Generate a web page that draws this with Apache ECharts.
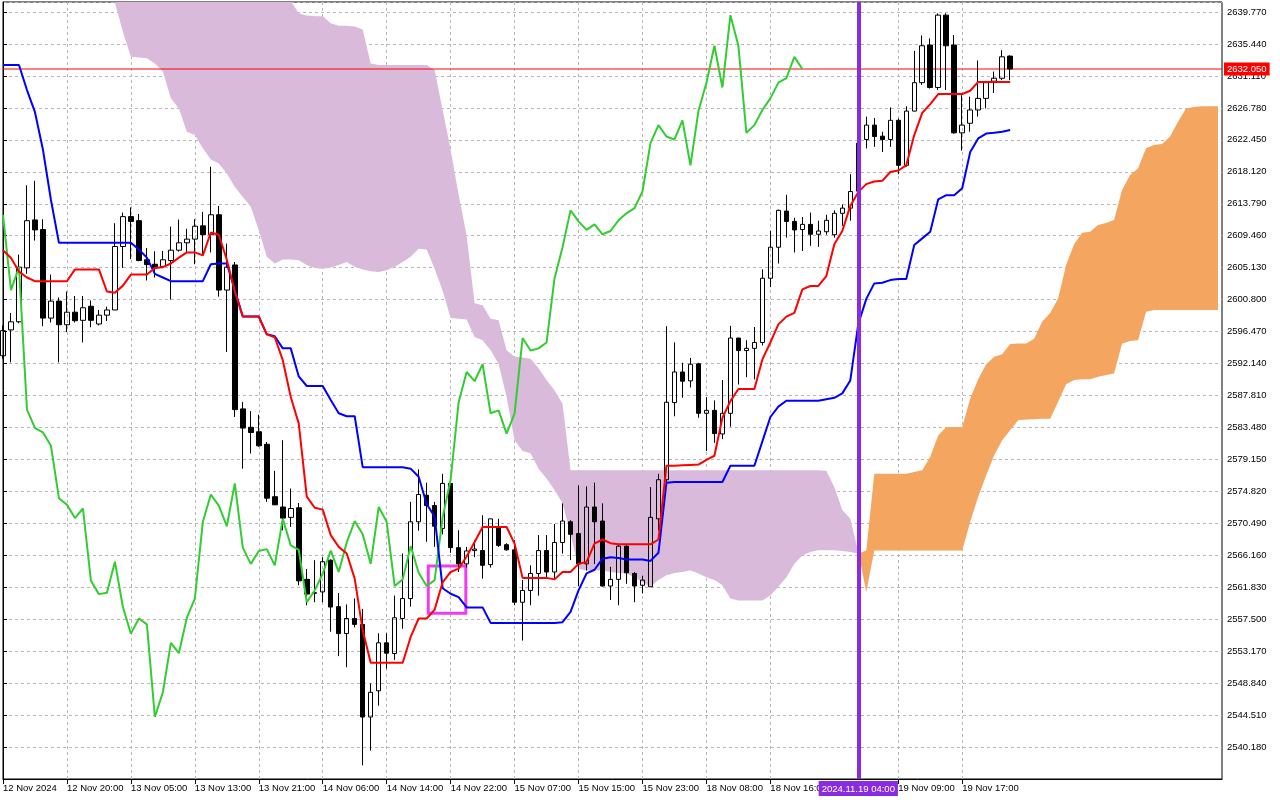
<!DOCTYPE html>
<html>
<head>
<meta charset="utf-8">
<title>XAUUSD H1 Ichimoku</title>
<script src="https://cdn.jsdelivr.net/npm/echarts@6.0.0/dist/echarts.min.js"></script>
<style>
  html, body { margin: 0; padding: 0; background: #fff; }
  #chart { width: 1280px; height: 800px; }
</style>
</head>
<body>
<div id="chart"></div>
<script>
// H1 bars, index 0 = 12 Nov 2024 12:00
const opens = [
  2593.2, 2596.7, 2597.8, 2605.1, 2611.6, 2610.3, 2598.3, 2600.6, 2597.4, 2599.1,
  2598.0, 2599.9, 2597.5, 2598.7, 2599.4, 2608.0, 2612.05, 2611.5, 2606.2, 2605.6,
  2605.3, 2606.1, 2607.5, 2608.5, 2609.0, 2610.8, 2609.6, 2612.3, 2602.1, 2605.5,
  2586.0, 2583.5, 2582.9, 2581.2, 2574.1, 2572.7, 2571.3, 2572.6, 2562.9, 2561.0,
  2561.2, 2565.5, 2559.2, 2555.55, 2557.6, 2556.8, 2544.25, 2547.8, 2554.3, 2552.85,
  2557.6, 2560.3, 2570.7, 2574.3, 2572.9, 2569.8, 2575.9, 2567.2, 2565.0, 2566.8,
  2566.8, 2564.9, 2569.9, 2567.6, 2566.9, 2559.8, 2561.4, 2563.7, 2566.8, 2563.9,
  2567.9, 2570.7, 2569.1, 2565.0, 2572.7, 2570.8, 2562.0, 2562.9, 2567.4, 2563.7,
  2562.1, 2561.9, 2571.1, 2576.4, 2586.85, 2591.0, 2589.8, 2592.1, 2585.4, 2585.8,
  2582.6, 2585.4, 2595.6, 2593.9, 2594.2, 2595.0, 2603.7, 2607.9, 2612.8, 2611.4,
  2610.3, 2611.0, 2609.66, 2610.0, 2609.6, 2612.5, 2613.2, 2615.5, 2622.5, 2624.45,
  2622.95, 2622.5, 2625.1, 2619.0, 2626.35, 2630.2, 2635.3, 2629.55, 2639.35, 2635.3,
  2623.4, 2624.7, 2626.5, 2628.07, 2630.4, 2630.8, 2633.8
];
const highs = [
  2597.3, 2599.0, 2606.9, 2616.3, 2616.9, 2611.7, 2604.2, 2601.1, 2601.9, 2601.3,
  2601.3, 2600.7, 2599.4, 2599.85, 2611.15, 2612.6, 2613.3, 2612.4, 2607.8, 2607.35,
  2607.4, 2610.7, 2611.65, 2610.4, 2611.7, 2612.7, 2618.8, 2613.5, 2608.4, 2605.9,
  2586.95, 2585.7, 2585.2, 2581.5, 2577.6, 2581.75, 2575.2, 2573.25, 2564.3, 2565.5,
  2565.9, 2565.6, 2561.05, 2559.5, 2560.3, 2558.9, 2548.8, 2555.6, 2555.6, 2560.7,
  2566.4, 2573.4, 2577.8, 2576.0, 2573.4, 2577.2, 2576.0, 2569.55, 2567.3, 2568.2,
  2571.6, 2571.1, 2571.1, 2567.8, 2568.2, 2562.8, 2564.8, 2568.9, 2568.9, 2570.4,
  2573.2, 2570.9, 2575.65, 2575.5, 2576.0, 2573.2, 2564.6, 2567.7, 2567.5, 2563.9,
  2563.4, 2575.4, 2577.2, 2597.2, 2595.0, 2592.25, 2592.9, 2592.25, 2587.6, 2587.15,
  2589.9, 2597.25, 2595.6, 2595.3, 2597.1, 2604.9, 2610.1, 2613.0, 2615.0, 2611.9,
  2612.0, 2612.6, 2611.5, 2612.3, 2612.9, 2613.7, 2617.8, 2623.5, 2625.6, 2625.4,
  2623.55, 2626.85, 2625.35, 2627.0, 2634.5, 2636.6, 2636.2, 2639.6, 2639.6, 2636.65,
  2628.5, 2628.3, 2633.2, 2630.3, 2631.7, 2634.6, 2633.9
];
const lows = [
  2592.8, 2592.3, 2597.6, 2604.3, 2608.8, 2597.2, 2597.7, 2592.3, 2596.4, 2597.7,
  2595.0, 2597.05, 2597.3, 2597.9, 2599.4, 2605.1, 2606.3, 2606.0, 2603.4, 2603.8,
  2605.2, 2600.8, 2607.3, 2607.2, 2605.6, 2607.0, 2607.2, 2601.2, 2593.7, 2584.9,
  2577.9, 2579.95, 2580.85, 2573.4, 2573.1, 2569.55, 2570.0, 2562.1, 2559.4, 2559.8,
  2559.8, 2555.8, 2552.5, 2551.0, 2556.4, 2537.7, 2539.7, 2545.8, 2550.8, 2552.0,
  2556.2, 2559.2, 2569.5, 2568.0, 2567.3, 2569.0, 2566.5, 2563.9, 2564.5, 2565.9,
  2563.0, 2564.5, 2567.3, 2566.8, 2559.4, 2554.6, 2559.4, 2560.7, 2563.0, 2563.0,
  2566.4, 2565.5, 2562.0, 2564.1, 2565.0, 2561.9, 2560.1, 2559.4, 2562.3, 2559.8,
  2561.0, 2561.9, 2569.5, 2575.5, 2585.0, 2587.5, 2588.9, 2584.8, 2580.3, 2581.4,
  2581.9, 2583.6, 2589.3, 2590.3, 2590.0, 2594.6, 2602.5, 2605.7, 2609.2, 2607.2,
  2607.4, 2608.1, 2607.95, 2609.6, 2609.2, 2610.8, 2611.5, 2614.5, 2621.3, 2621.5,
  2620.8, 2621.5, 2617.8, 2618.8, 2626.3, 2629.9, 2629.4, 2629.2, 2629.2, 2623.3,
  2621.0, 2623.55, 2625.6, 2626.7, 2628.8, 2630.55, 2630.55
];
const closes = [
  2596.6, 2597.8, 2605.2, 2611.5, 2610.25, 2598.3, 2600.6, 2597.4, 2599.1, 2597.95,
  2599.7, 2598.0, 2598.7, 2599.4, 2608.0, 2612.05, 2611.4, 2606.1, 2605.55, 2605.1,
  2606.2, 2607.5, 2608.5, 2609.0, 2610.75, 2609.6, 2612.3, 2602.1, 2605.2, 2585.9,
  2583.4, 2582.8, 2581.0, 2573.9, 2573.0, 2571.2, 2572.5, 2562.7, 2560.9, 2561.1,
  2565.3, 2559.15, 2555.55, 2557.6, 2556.8, 2544.25, 2547.6, 2554.3, 2552.9, 2557.7,
  2560.3, 2570.7, 2574.4, 2572.9, 2570.1, 2575.9, 2567.2, 2565.0, 2566.75, 2567.0,
  2564.8, 2571.1, 2567.5, 2566.9, 2559.8, 2561.4, 2563.7, 2566.8, 2563.9, 2567.9,
  2570.8, 2569.0, 2565.0, 2572.7, 2570.7, 2562.0, 2562.9, 2567.4, 2563.8, 2562.0,
  2562.8, 2571.3, 2576.4, 2586.9, 2591.0, 2589.75, 2592.05, 2585.4, 2585.8, 2582.65,
  2585.4, 2595.6, 2593.9, 2594.2, 2595.0, 2603.7, 2607.9, 2612.9, 2611.4, 2610.25,
  2611.0, 2609.66, 2610.1, 2611.55, 2612.5, 2613.2, 2615.45, 2622.0, 2624.45, 2622.9,
  2622.5, 2625.1, 2619.0, 2626.35, 2630.2, 2635.2, 2629.55, 2639.35, 2635.2, 2623.4,
  2624.45, 2626.5, 2628.07, 2630.2, 2630.8, 2633.7, 2632.05
];

const tenkan = [
  2607.5, 2606.45, 2604.6, 2603.8, 2603.3, 2603.3, 2603.3, 2603.3, 2603.3, 2604.9,
  2604.9, 2604.9, 2604.9, 2601.9, 2601.75, 2602.7, 2604.2, 2604.2, 2604.2, 2605.1,
  2605.2, 2605.7, 2606.5, 2607.2, 2607.2, 2606.8, 2609.9, 2609.6, 2606.2, 2601.9,
  2598.5, 2598.5, 2598.5, 2596.1, 2595.7, 2592.6, 2587.6, 2584.0, 2574.1, 2572.6,
  2572.35, 2568.9, 2567.3, 2566.4, 2563.0, 2556.0, 2551.6, 2551.6, 2551.6, 2551.6,
  2551.6, 2555.1, 2557.6, 2557.6, 2558.8, 2562.5, 2563.9, 2564.35, 2566.0, 2567.96,
  2570.0, 2570.0, 2570.0, 2570.0, 2567.75, 2563.1, 2563.1, 2563.1, 2563.1, 2562.9,
  2563.9, 2563.9, 2565.0, 2565.25, 2567.75, 2568.3, 2567.8, 2567.65, 2567.65, 2567.65,
  2567.65, 2567.65, 2568.3, 2578.3, 2578.3, 2578.35, 2578.4, 2578.45, 2579.1, 2579.65,
  2584.8, 2587.05, 2588.7, 2588.7, 2588.7, 2592.7, 2595.0, 2597.45, 2598.5, 2599.0,
  2602.2, 2602.65, 2602.65, 2604.0, 2608.3, 2610.1, 2613.5, 2615.4, 2616.45, 2616.8,
  2616.9, 2618.1, 2618.3, 2619.0, 2623.1, 2626.1, 2627.3, 2628.66, 2628.66, 2628.66,
  2628.66, 2629.1, 2630.3, 2630.3, 2630.3, 2630.3, 2630.3
];
const kijun = [
  2632.6, 2632.6, 2632.6, 2629.2, 2626.2, 2621.1, 2614.3, 2608.5, 2608.5, 2608.5,
  2608.5, 2608.5, 2608.5, 2608.5, 2608.5, 2608.5, 2608.5, 2607.6, 2606.5, 2604.3,
  2603.8, 2603.3, 2603.3, 2603.3, 2603.3, 2603.3, 2605.6, 2605.7, 2605.7, 2602.1,
  2598.5, 2598.5, 2598.5, 2596.1, 2595.85, 2594.2, 2594.2, 2590.4, 2589.1, 2589.1,
  2589.1, 2587.2, 2585.4, 2585.0, 2585.0, 2578.1, 2578.1, 2578.1, 2578.1, 2578.1,
  2578.1, 2577.9, 2576.8, 2573.1, 2571.4, 2561.7, 2560.95, 2560.5, 2559.1, 2559.1,
  2559.1, 2557.0, 2557.0, 2557.0, 2557.0, 2557.0, 2557.0, 2557.0, 2557.0, 2557.0,
  2557.1, 2558.5, 2561.4, 2563.7, 2564.2, 2565.7, 2565.9, 2565.8, 2565.6, 2565.6,
  2565.6, 2565.4, 2566.5, 2576.0, 2576.1, 2576.1, 2576.1, 2576.1, 2576.1, 2576.1,
  2576.1, 2578.3, 2578.3, 2578.3, 2578.3, 2581.6, 2584.9, 2586.3, 2587.1, 2587.1,
  2587.1, 2587.1, 2587.1, 2587.3, 2587.5, 2588.1, 2589.85, 2597.5, 2600.9, 2603.0,
  2603.1, 2603.45, 2603.6, 2603.6, 2608.2, 2609.1, 2610.0, 2614.4, 2614.95, 2614.95,
  2615.9, 2620.8, 2622.65, 2623.3, 2623.4, 2623.55, 2623.8
];
// Senkou spans, already shifted 26 bars ahead (153 points)
const spanA = [
  2648.0, 2647.6, 2647.2, 2646.8, 2646.5, 2646.2, 2645.8, 2645.4, 2645.0, 2644.6,
  2644.1, 2643.6, 2643.0, 2642.2, 2641.05, 2637.1, 2633.7, 2633.6, 2633.5, 2632.8,
  2631.7, 2628.1, 2626.7, 2623.55, 2623.1, 2621.3, 2619.8, 2619.26, 2617.9, 2616.1,
  2614.7, 2613.4, 2610.2, 2606.6, 2605.7, 2606.25, 2606.25, 2606.15, 2605.5, 2605.1,
  2605.0, 2605.15, 2605.5, 2605.9, 2605.25, 2604.9, 2604.65, 2604.55, 2604.8, 2605.25,
  2605.9, 2606.6, 2607.7, 2607.6, 2605.0, 2602.0, 2598.3, 2598.2, 2598.1, 2595.75,
  2595.3, 2593.95, 2592.1, 2587.6, 2581.75, 2580.3, 2580.0, 2577.9, 2576.55, 2575.0,
  2573.2, 2569.1, 2564.35, 2564.1, 2564.1, 2564.1, 2563.9, 2563.75, 2563.7, 2563.2,
  2562.5, 2561.9, 2562.8, 2563.45, 2563.75, 2563.9, 2564.1, 2563.7, 2563.2, 2562.8,
  2562.1, 2560.3, 2560.05, 2560.05, 2560.05, 2560.05, 2560.7, 2561.9, 2563.2, 2565.0,
  2566.15, 2566.6, 2566.85, 2566.85, 2566.85, 2566.75, 2566.6, 2566.4, 2566.8, 2577.2,
  2577.2, 2577.2, 2577.2, 2577.2, 2577.45, 2577.7, 2579.5, 2582.4, 2583.55, 2583.55,
  2583.55, 2587.4, 2590.0, 2592.05, 2593.05, 2593.4, 2594.8, 2594.85, 2594.85, 2595.5,
  2597.8, 2599.0, 2600.95, 2605.5, 2608.3, 2609.85, 2610.0, 2610.9, 2611.2, 2611.6,
  2615.65, 2617.7, 2618.6, 2621.3, 2621.75, 2621.9, 2622.9, 2624.9, 2626.7, 2626.9,
  2627.0, 2627.0, 2627.0
];
const spanB = [
  2649.0, 2649.0, 2649.0, 2649.0, 2649.0, 2649.0, 2649.0, 2649.0, 2649.0, 2649.0,
  2649.0, 2649.0, 2649.0, 2649.0, 2649.0, 2649.0, 2649.0, 2649.0, 2649.0, 2649.0,
  2649.0, 2649.0, 2649.0, 2649.0, 2649.0, 2649.0, 2649.0, 2649.0, 2649.0, 2649.0,
  2649.0, 2649.0, 2649.0, 2649.0, 2649.0, 2649.0, 2641.3, 2639.6, 2639.3, 2639.2,
  2639.2, 2638.25, 2637.9, 2637.9, 2637.8, 2637.4, 2632.8, 2632.6, 2632.6, 2632.6,
  2632.6, 2632.6, 2632.6, 2632.6, 2631.9, 2626.5, 2621.1, 2615.0, 2609.5, 2600.3,
  2600.05, 2598.2, 2598.0, 2593.95, 2593.05, 2592.95, 2592.8, 2591.5, 2589.9, 2588.5,
  2586.7, 2577.7, 2577.7, 2577.7, 2577.7, 2577.7, 2577.7, 2577.7, 2577.7, 2577.7,
  2577.7, 2577.7, 2577.7, 2577.7, 2577.7, 2577.7, 2577.7, 2577.7, 2577.7, 2577.7,
  2577.7, 2577.7, 2577.7, 2577.7, 2577.7, 2577.7, 2577.7, 2577.7, 2577.7, 2577.7,
  2577.7, 2577.7, 2577.7, 2577.6, 2575.4, 2572.3, 2571.1, 2566.6, 2561.2, 2566.8,
  2566.8, 2566.8, 2566.8, 2566.8, 2566.8, 2566.8, 2566.8, 2566.8, 2566.8, 2566.8,
  2566.8, 2570.7, 2574.1, 2577.0, 2579.7, 2581.75, 2583.1, 2584.45, 2584.55, 2584.6,
  2584.65, 2584.65, 2586.95, 2589.35, 2589.9, 2590.0, 2590.0, 2590.35, 2590.6, 2590.8,
  2594.85, 2595.2, 2595.3, 2599.15, 2599.4, 2599.4, 2599.4, 2599.4, 2599.4, 2599.4,
  2599.4, 2599.4, 2599.4
];
const chikouShift = 26;

const xTickBars = [0, 8, 16, 24, 32, 40, 48, 56, 64, 72, 80, 88, 96, 112, 120];
const xTickLabels = [
  '12 Nov 2024', '12 Nov 20:00', '13 Nov 05:00', '13 Nov 13:00', '13 Nov 21:00',
  '14 Nov 06:00', '14 Nov 14:00', '14 Nov 22:00', '15 Nov 07:00', '15 Nov 15:00',
  '15 Nov 23:00', '18 Nov 08:00', '18 Nov 16:00', '19 Nov 09:00', '19 Nov 17:00'
];

const bidPrice = 2632.05;
const cursorBar = 107;
const cursorLabel = '2024.11.19 04:00';
const boxBars = [53.2, 57.9];
const boxPrices = [2558.3, 2564.7];

// price axis: ticks every 4.33 starting at 2535.85, plotted as offsets from it
const yBase = 2535.85;
const yStep = 4.33;
const yTop = 2641.13;
const xMax = 152.5;

const FONT = 'Liberation Sans';
const cloudUp = '#f4a55f';
const cloudDown = '#d9badb';

const chart = echarts.init(document.getElementById('chart'), null, { renderer: 'canvas' });

function renderCloud(params, api) {
  const polys = [];
  let side1 = [];
  let side2 = [];
  let sign = 1;
  const add = (x, a, b) => {
    side1.push(api.coord([x, a - yBase]));
    side2.push(api.coord([x, b - yBase]));
  };
  const flush = () => {
    if (side1.length > 1) {
      polys.push({
        type: 'polygon',
        shape: { points: side1.concat(side2.slice().reverse()) },
        style: { fill: sign > 0 ? cloudUp : cloudDown }
      });
    }
    side1 = [];
    side2 = [];
  };
  for (let i = 0; i < spanA.length; i++) {
    const d = spanA[i] - spanB[i];
    if (i === 0) {
      sign = d >= 0 ? 1 : -1;
    } else {
      const dp = spanA[i - 1] - spanB[i - 1];
      if (dp * d < 0) {
        const t = dp / (dp - d);
        const x = i - 1 + t;
        const y = spanA[i - 1] + t * (spanA[i] - spanA[i - 1]);
        add(x, y, y);
        flush();
        sign = d > 0 ? 1 : -1;
        add(x, y, y);
      }
    }
    add(i, spanA[i], spanB[i]);
  }
  flush();
  return { type: 'group', children: polys };
}

const candles = closes.map((c, i) => [i, opens[i] - yBase, c - yBase, lows[i] - yBase, highs[i] - yBase]);
const asLine = (arr, shift = 0) => arr.map((v, i) => [i - shift, v - yBase]).filter((p) => p[0] >= 0);

const option = {
  backgroundColor: '#ffffff',
  animation: false,
  grid: {
    left: 2, right: 58, top: 2, bottom: 21,
    show: true, borderColor: '#000', borderWidth: 1, backgroundColor: '#fff'
  },
  xAxis: {
    type: 'value',
    min: 0,
    max: xMax,
    interval: 4,
    axisLine: { show: true, lineStyle: { color: '#000', width: 1 } },
    axisTick: { show: true, length: 5, lineStyle: { color: '#000' }, customValues: xTickBars },
    axisLabel: {
      customValues: xTickBars,
      color: '#000',
      fontFamily: FONT,
      fontSize: 9.5,
      align: 'left',
      margin: 4,
      showMinLabel: true,
      showMaxLabel: true,
      formatter: (v) => {
        const k = xTickBars.indexOf(Math.round(v));
        return k >= 0 ? xTickLabels[k] : '';
      }
    },
    splitLine: { show: true, lineStyle: { color: '#bdb3bd', type: [3, 3], width: 1 } }
  },
  yAxis: {
    type: 'value',
    position: 'right',
    min: 0,
    max: yTop - yBase,
    interval: yStep,
    axisLine: { show: true, lineStyle: { color: '#000', width: 1 } },
    axisTick: { show: true, length: 4, lineStyle: { color: '#000' } },
    axisLabel: {
      color: '#000',
      fontFamily: FONT,
      fontSize: 9.5,
      margin: 5,
      showMinLabel: false,
      showMaxLabel: false,
      formatter: (v) => (v + yBase).toFixed(3)
    },
    splitLine: { show: true, lineStyle: { color: '#bdb3bd', type: [3, 3], width: 1 } }
  },
  series: [
    {
      name: 'Kumo',
      type: 'custom',
      renderItem: renderCloud,
      data: [[0, 0]],
      encode: { x: 0, y: 1 },
      clip: true,
      silent: true,
      z: 1
    },
    {
      name: 'Price',
      type: 'candlestick',
      data: candles,
      encode: { x: 0, y: [1, 2, 3, 4] },
      barWidth: 5,
      clip: true,
      silent: true,
      itemStyle: {
        color: 'rgba(255,255,255,0)',
        color0: '#000000',
        borderColor: '#000000',
        borderColor0: '#000000',
        borderWidth: 1
      },
      z: 2
    },
    {
      name: 'Bid',
      type: 'line',
      data: [[0, bidPrice - yBase], [xMax, bidPrice - yBase]],
      symbol: 'none',
      silent: true,
      clip: false,
      color: '#ff0000',
      lineStyle: { color: '#ff0000', width: 1 },
      endLabel: {
        show: true,
        distance: 2,
        formatter: bidPrice.toFixed(3),
        color: '#ffffff',
        backgroundColor: '#ff0000',
        padding: [2, 3, 1, 3],
        fontFamily: FONT,
        fontSize: 9.5
      },
      z: 2
    },
    {
      name: 'Chikou Span',
      type: 'line',
      data: asLine(closes, chikouShift),
      symbol: 'none',
      silent: true,
      lineStyle: { color: '#32cd32', width: 2 },
      z: 3
    },
    {
      name: 'Kijun-sen',
      type: 'line',
      data: asLine(kijun),
      symbol: 'none',
      silent: true,
      lineStyle: { color: '#0000ff', width: 2 },
      z: 3
    },
    {
      name: 'Tenkan-sen',
      type: 'line',
      data: asLine(tenkan),
      symbol: 'none',
      silent: true,
      clip: false,
      color: '#ff0000',
      lineStyle: { color: '#ff0000', width: 2 },
      z: 4,
      markArea: {
        silent: true,
        itemStyle: { color: 'rgba(0,0,0,0)', borderColor: '#f03cf0', borderWidth: 3 },
        data: [[
          { coord: [boxBars[0], boxPrices[1] - yBase] },
          { coord: [boxBars[1], boxPrices[0] - yBase] }
        ]]
      },
      markLine: {
        silent: true,
        symbol: ['none', 'none'],
        animation: false,
        lineStyle: { color: '#8a2be2', width: 4, type: 'solid' },
        label: {
          show: true,
          position: 'start',
          distance: 2,
          formatter: cursorLabel,
          color: '#ffffff',
          backgroundColor: '#8a2be2',
          padding: [3, 3, 2, 3],
          fontFamily: FONT,
          fontSize: 9.5
        },
        data: [
          [
            { coord: [cursorBar, 0] },
            { coord: [cursorBar, yTop - yBase] }
          ]
        ]
      }
    }
  ]
};

chart.setOption(option);
</script>
</body>
</html>
